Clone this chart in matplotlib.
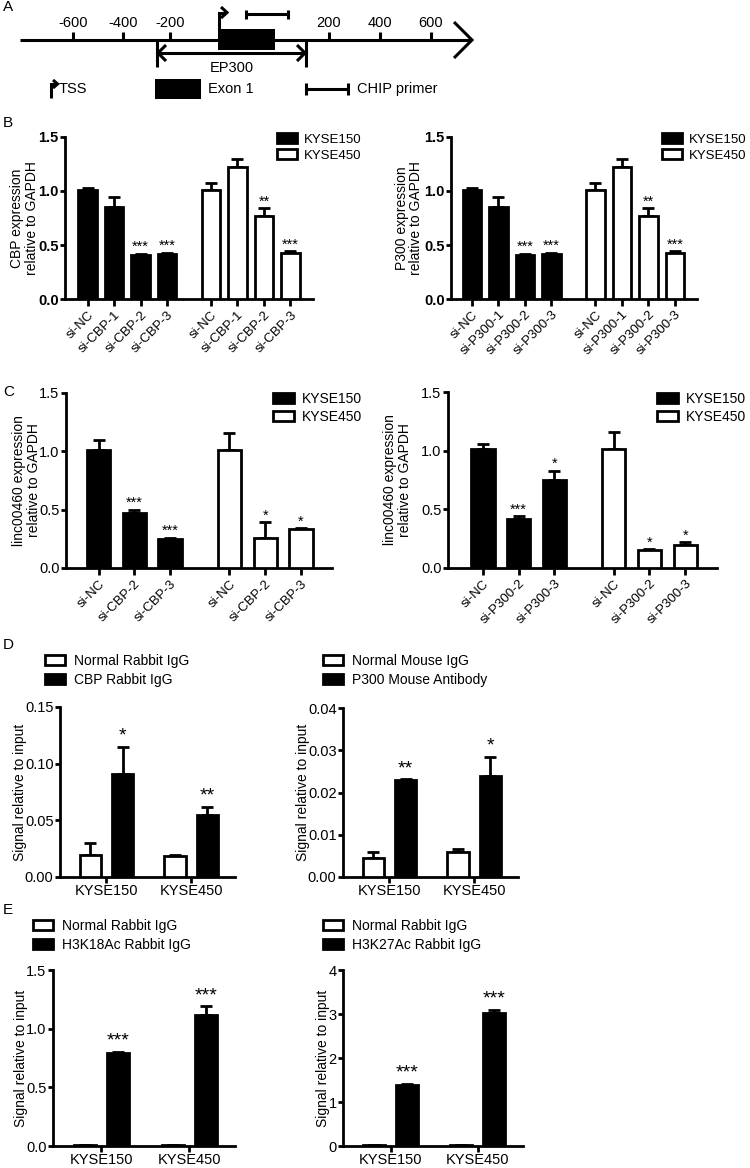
import numpy as np
import matplotlib
matplotlib.use('Agg')
import matplotlib.pyplot as plt
from matplotlib.patches import Rectangle, Patch

plt.rcParams['font.family'] = ['Liberation Sans', 'DejaVu Sans']
plt.rcParams['axes.linewidth'] = 2

W, H = 750, 1168

# A: EP300 promoter schematic
a_tick_labels = ['-600', '-400', '-200', '200', '400', '600']
a_tick_x = [73, 123, 170, 329, 380, 431]

cells = ['KYSE150', 'KYSE450']

# B: knockdown efficiency
b_cbp_labels = ['si-NC', 'si-CBP-1', 'si-CBP-2', 'si-CBP-3']
b_cbp_150 = [1.01, 0.85, 0.41, 0.42]
b_cbp_150_err = [0.02, 0.09, 0.01, 0.01]
b_cbp_150_sig = ['', '', '***', '***']
b_cbp_450 = [1.01, 1.22, 0.77, 0.43]
b_cbp_450_err = [0.06, 0.08, 0.07, 0.01]
b_cbp_450_sig = ['', '', '**', '***']

b_p300_labels = ['si-NC', 'si-P300-1', 'si-P300-2', 'si-P300-3']
b_p300_150 = [1.01, 0.85, 0.41, 0.42]
b_p300_150_err = [0.02, 0.09, 0.01, 0.01]
b_p300_150_sig = ['', '', '***', '***']
b_p300_450 = [1.01, 1.22, 0.77, 0.43]
b_p300_450_err = [0.06, 0.08, 0.07, 0.01]
b_p300_450_sig = ['', '', '**', '***']

# C: linc00460 expression
c_cbp_labels = ['si-NC', 'si-CBP-2', 'si-CBP-3']
c_cbp_150 = [1.01, 0.47, 0.25]
c_cbp_150_err = [0.09, 0.03, 0.01]
c_cbp_150_sig = ['', '***', '***']
c_cbp_450 = [1.01, 0.26, 0.33]
c_cbp_450_err = [0.15, 0.13, 0.01]
c_cbp_450_sig = ['', '*', '*']

c_p300_labels = ['si-NC', 'si-P300-2', 'si-P300-3']
c_p300_150 = [1.01, 0.42, 0.75]
c_p300_150_err = [0.05, 0.02, 0.08]
c_p300_150_sig = ['', '***', '*']
c_p300_450 = [1.01, 0.15, 0.20]
c_p300_450_err = [0.15, 0.01, 0.02]
c_p300_450_sig = ['', '*', '*']

# D: ChIP CBP / P300
d_cbp_igg = [0.019, 0.0185]
d_cbp_igg_err = [0.011, 0.001]
d_cbp_ab = [0.091, 0.055]
d_cbp_ab_err = [0.024, 0.007]
d_cbp_sig = ['*', '**']

d_p300_igg = [0.0045, 0.006]
d_p300_igg_err = [0.0014, 0.0006]
d_p300_ab = [0.023, 0.024]
d_p300_ab_err = [0.0001, 0.0045]
d_p300_sig = ['**', '*']

# E: ChIP H3K18Ac / H3K27Ac
e_k18_igg = [0.012, 0.008]
e_k18_igg_err = [0.0, 0.0]
e_k18_ab = [0.79, 1.12]
e_k18_ab_err = [0.01, 0.07]
e_k18_sig = ['***', '***']

e_k27_igg = [0.02, 0.02]
e_k27_igg_err = [0.0, 0.0]
e_k27_ab = [1.38, 3.02]
e_k27_ab_err = [0.03, 0.07]
e_k27_sig = ['***', '***']

fig = plt.figure(figsize=(W / 100, H / 100), dpi=100)


def px_axes(x0, y0, x1, y1):
    return fig.add_axes([x0 / W, 1 - y1 / H, (x1 - x0) / W, (y1 - y0) / H])


def bar_style(ax, xlim, ylim, yticks, fmt, bold=False, xlen=5, xpad=2):
    ax.set_xlim(*xlim)
    ax.set_ylim(*ylim)
    ax.set_yticks(yticks)
    ax.set_yticklabels([fmt.format(t) for t in yticks], fontsize=10.5,
                       fontweight='bold' if bold else 'normal')
    for s in ('top', 'right'):
        ax.spines[s].set_visible(False)
    ax.tick_params(axis='y', length=3.6, width=2, pad=1)
    ax.tick_params(axis='x', length=xlen, width=2, pad=xpad)


def add_bars(ax, x, vals, errs, sigs, face, width, star_fs, star_off):
    ax.bar(x, vals, width=width, color=face, edgecolor='black', linewidth=2, zorder=3)
    ax.errorbar(x, vals, yerr=[np.zeros(len(vals)), errs], fmt='none', ecolor='black',
                elinewidth=2, capsize=4.5, capthick=2, zorder=2)
    for xi, v, e, s in zip(x, vals, errs, sigs):
        if s:
            ax.annotate(s, (xi, v + e), xytext=(0, star_off), textcoords='offset points',
                        ha='center', va='baseline', fontsize=star_fs)


def legend_at(ax, labels, faces, x, ytop, fs, hl, hh, pad, ls):
    handles = [Patch(facecolor=f, edgecolor='black', linewidth=2) for f in faces]
    ax.legend(handles, labels, loc='upper left', bbox_to_anchor=(x / W, 1 - ytop / H),
              bbox_transform=fig.transFigure, frameon=False, fontsize=fs,
              handlelength=hl, handleheight=hh, handletextpad=pad, labelspacing=ls,
              borderpad=0, borderaxespad=0)


def expr_panel(box, labels, v150, e150, s150, v450, e450, s450, ylabel, lab_x,
               xlim, width, bold, leg):
    ax = px_axes(*box)
    n = len(labels)
    x150 = np.arange(n)
    x450 = np.arange(n) + n + 0.66
    add_bars(ax, x150, v150, e150, s150, 'black', width, 10.5, 1.8)
    add_bars(ax, x450, v450, e450, s450, 'white', width, 10.5, 1.8)
    bar_style(ax, xlim, (0, 1.5), [0, 0.5, 1.0, 1.5], '{:.1f}', bold)
    ax.set_xticks(np.concatenate([x150, x450]))
    ax.set_xticklabels(labels * 2, rotation=45, ha='right', rotation_mode='anchor', fontsize=9.5)
    ax.set_ylabel(ylabel, fontsize=10, linespacing=1.05)
    ax.yaxis.set_label_coords(lab_x, 0.5)
    legend_at(ax, cells, ['black', 'white'], leg[0], leg[1], leg[2], 1.5, 0.8, 0.55, 0.28)
    return ax


def chip_panel(box, igg, igg_err, ab, ab_err, sig, ylim, yticks, fmt, lab_x, leg_labels, leg):
    ax = px_axes(*box)
    xc = np.arange(len(cells))
    add_bars(ax, xc - 0.19, igg, igg_err, ['', ''], 'white', 0.25, 14, 4.5)
    add_bars(ax, xc + 0.19, ab, ab_err, sig, 'black', 0.25, 14, 4.5)
    bar_style(ax, (-0.55, 1.52), ylim, yticks, fmt, xlen=4.3, xpad=0.8)
    ax.set_xticks(xc)
    ax.set_xticklabels(cells, fontsize=10.5)
    ax.set_ylabel('Signal relative to input', fontsize=10)
    ax.yaxis.set_label_coords(lab_x, 0.5)
    legend_at(ax, leg_labels, ['white', 'black'], leg[0], leg[1], 10, 1.45, 0.7, 0.65, 0.34)
    return ax


# ---------------- Panel A ----------------
axA = px_axes(0, 0, W, 105)
axA.set_xlim(0, W)
axA.set_ylim(105, 0)
axA.axis('off')
k = dict(color='black', lw=2.2, solid_capstyle='butt', solid_joinstyle='miter')
axA.plot([20, 471], [40, 40], **k)
axA.plot([454, 472, 454], [22, 40, 58], **k)
for tx, tl in zip(a_tick_x, a_tick_labels):
    axA.plot([tx, tx], [32, 40], **k)
    axA.text(tx, 23, tl, ha='center', va='center', fontsize=10.5)
axA.add_patch(Rectangle((218, 29), 57, 21, facecolor='black', edgecolor='none'))
# TSS bent arrow
axA.plot([219, 219, 225], [31, 12.5, 12.5], **k)
axA.plot([221, 227, 221], [7, 12.5, 18], **k)
# ChIP primer
axA.plot([246, 288], [14, 14], **k)
axA.plot([246, 246], [9.5, 18.5], **k)
axA.plot([288, 288], [9.5, 18.5], **k)
# EP300 bracket
axA.plot([157, 157], [40, 67], **k)
axA.plot([306, 306], [40, 67], **k)
axA.plot([157, 306], [53, 53], **k)
axA.plot([166, 158, 166], [45, 53, 61], **k)
axA.plot([297, 305, 297], [45, 53, 61], **k)
axA.text(232, 68, 'EP300', ha='center', va='center', fontsize=10.5)
# key
axA.plot([51, 51, 55], [98, 84, 84], **k)
axA.plot([53, 57.5, 53], [80, 84, 88], **k)
axA.text(59, 89, 'TSS', ha='left', va='center', fontsize=10.5)
axA.add_patch(Rectangle((155, 79), 46, 20, facecolor='black', edgecolor='none'))
axA.text(208, 89, 'Exon 1', ha='left', va='center', fontsize=10.5)
axA.plot([306, 348], [89, 89], **k)
axA.plot([306, 306], [83, 95], **k)
axA.plot([348, 348], [83, 95], **k)
axA.text(357, 89, 'CHIP primer', ha='left', va='center', fontsize=10.5)

# ---------------- Panel B ----------------
expr_panel((65, 137, 313, 299), b_cbp_labels, b_cbp_150, b_cbp_150_err, b_cbp_150_sig,
           b_cbp_450, b_cbp_450_err, b_cbp_450_sig, 'CBP expression\nrelative to GAPDH',
           -0.105, (-0.85, 8.51), 0.7, True, (277, 133, 9.5))
expr_panel((451, 137, 697, 299), b_p300_labels, b_p300_150, b_p300_150_err, b_p300_150_sig,
           b_p300_450, b_p300_450_err, b_p300_450_sig, 'P300 expression\nrelative to GAPDH',
           -0.112, (-0.79, 8.49), 0.7, True, (662, 133, 9.5))

# ---------------- Panel C ----------------
expr_panel((66, 393, 332, 568), c_cbp_labels, c_cbp_150, c_cbp_150_err, c_cbp_150_sig,
           c_cbp_450, c_cbp_450_err, c_cbp_450_sig, 'linc00460 expression\nrelative to GAPDH',
           -0.095, (-0.91, 6.53), 0.65, False, (273, 392, 10))
expr_panel((448, 392, 717, 568), c_p300_labels, c_p300_150, c_p300_150_err, c_p300_150_sig,
           c_p300_450, c_p300_450_err, c_p300_450_sig, 'linc00460 expression\nrelative to GAPDH',
           -0.135, (-0.98, 6.55), 0.65, False, (657, 392, 10))

# ---------------- Panel D ----------------
chip_panel((60, 707, 235, 877), d_cbp_igg, d_cbp_igg_err, d_cbp_ab, d_cbp_ab_err, d_cbp_sig,
           (0, 0.15), [0, 0.05, 0.10, 0.15], '{:.2f}', -0.19,
           ['Normal Rabbit IgG', 'CBP Rabbit IgG'], (45, 654))
chip_panel((343, 708, 518, 877), d_p300_igg, d_p300_igg_err, d_p300_ab, d_p300_ab_err, d_p300_sig,
           (0, 0.04), [0, 0.01, 0.02, 0.03, 0.04], '{:.2f}', -0.19,
           ['Normal Mouse IgG', 'P300 Mouse Antibody'], (323, 654))

# ---------------- Panel E ----------------
chip_panel((53, 970, 235, 1146), e_k18_igg, e_k18_igg_err, e_k18_ab, e_k18_ab_err, e_k18_sig,
           (0, 1.5), [0, 0.5, 1.0, 1.5], '{:.1f}', -0.14,
           ['Normal Rabbit IgG', 'H3K18Ac Rabbit IgG'], (33, 919))
chip_panel((343, 970, 523, 1146), e_k27_igg, e_k27_igg_err, e_k27_ab, e_k27_ab_err, e_k27_sig,
           (0, 4), [0, 1, 2, 3, 4], '{:.0f}', -0.075,
           ['Normal Rabbit IgG', 'H3K27Ac Rabbit IgG'], (323, 919))

# panel letters
for letter, ly in zip('ABCDE', [7, 123, 392, 645, 910]):
    fig.text(3 / W, 1 - ly / H, letter, fontsize=11, ha='left', va='center')

fig.savefig('out.png', dpi=100)
